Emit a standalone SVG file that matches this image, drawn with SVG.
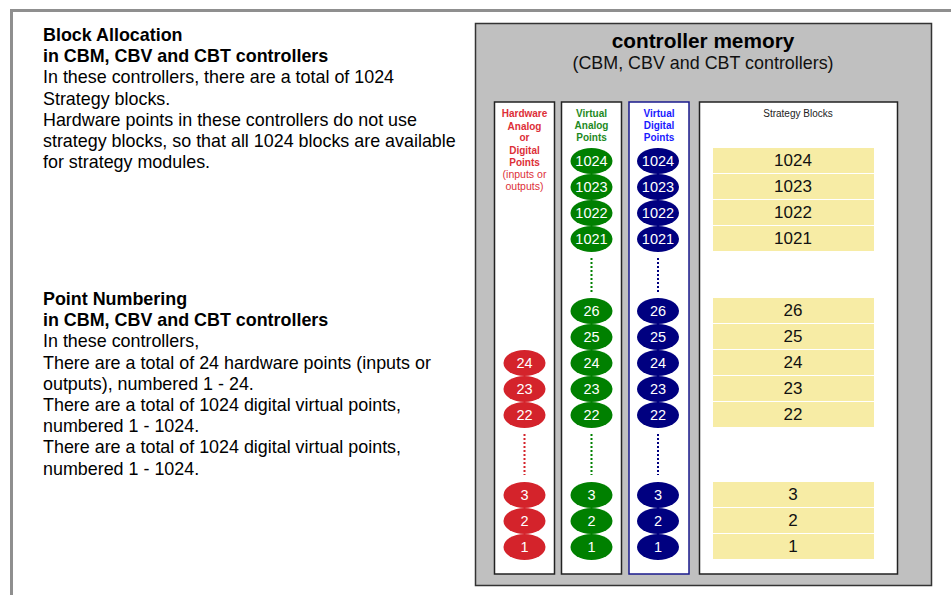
<svg xmlns="http://www.w3.org/2000/svg" width="951" height="595" viewBox="0 0 951 595">
<style>
text{font-family:"Liberation Sans",Arial,sans-serif}
.lt{font-size:17.9px;fill:#000}
.b{font-weight:bold}
.col{fill:#fff;stroke:#222;stroke-width:1.5}
.hd{font-size:10px;font-weight:bold;text-anchor:middle}
.hn{font-size:10.5px;font-weight:normal;text-anchor:middle}
.et{font-size:14.5px;fill:#fff;text-anchor:middle}
.yb{fill:#f7eca5}
.yt{font-size:17px;fill:#111;text-anchor:middle}
.red{fill:#d4232b}
.grn{fill:#008000}
.blu{fill:#000080}
.dot{stroke-width:2;stroke-dasharray:2 2;fill:none}
</style>
<rect width="951" height="595" fill="#fff"/>
<path d="M11.5 595 V10.5 H951" fill="none" stroke="#8f8f8f" stroke-width="3"/>
<g id="text-block-allocation">
<text class="lt b" x="43" y="41">Block Allocation</text>
<text class="lt b" x="43" y="62.2">in CBM, CBV and CBT controllers</text>
<text class="lt" x="43" y="83.4">In these controllers, there are a total of 1024</text>
<text class="lt" x="43" y="104.6">Strategy blocks.</text>
<text class="lt" x="43" y="125.8">Hardware points in these controllers do not use</text>
<text class="lt" x="43" y="147">strategy blocks, so that all 1024 blocks are available</text>
<text class="lt" x="43" y="168.2">for strategy modules.</text>
</g>
<g id="text-point-numbering">
<text class="lt b" x="43" y="305">Point Numbering</text>
<text class="lt b" x="43" y="326.2">in CBM, CBV and CBT controllers</text>
<text class="lt" x="43" y="347.4">In these controllers,</text>
<text class="lt" x="43" y="368.6">There are a total of 24 hardware points (inputs or</text>
<text class="lt" x="43" y="389.8">outputs), numbered 1 - 24.</text>
<text class="lt" x="43" y="411">There are a total of 1024 digital virtual points,</text>
<text class="lt" x="43" y="432.2">numbered 1 - 1024.</text>
<text class="lt" x="43" y="453.4">There are a total of 1024 digital virtual points,</text>
<text class="lt" x="43" y="474.6">numbered 1 - 1024.</text>
</g>
<g id="controller-memory">
<rect x="475.5" y="23.5" width="456" height="562" fill="#c0c0c0" stroke="#333" stroke-width="1.5"/>
<text x="703" y="48" font-size="20.8" font-weight="bold" text-anchor="middle" fill="#000">controller memory</text>
<text x="703" y="69" font-size="17.9" text-anchor="middle" fill="#111">(CBM, CBV and CBT controllers)</text>
</g>
<g id="hardware-points">
<rect class="col" x="494.5" y="102" width="60" height="472"/>
<g fill="#dd2f38">
<text class="hd" x="524.5" y="117">Hardware</text>
<text class="hd" x="524.5" y="129.5">Analog</text>
<text class="hd" x="524.5" y="141">or</text>
<text class="hd" x="524.5" y="153.5">Digital</text>
<text class="hd" x="524.5" y="166">Points</text>
<text class="hn" x="524.5" y="178">(inputs or</text>
<text class="hn" x="524.5" y="190">outputs)</text>
</g>
<g class="red">
<ellipse cx="524.5" cy="363" rx="21" ry="13"/><ellipse cx="524.5" cy="389" rx="21" ry="13"/><ellipse cx="524.5" cy="415" rx="21" ry="13"/>
<ellipse cx="524.5" cy="495" rx="21" ry="13"/><ellipse cx="524.5" cy="521" rx="21" ry="13"/><ellipse cx="524.5" cy="547" rx="21" ry="13"/>
</g>
<text class="et" x="524.5" y="368">24</text><text class="et" x="524.5" y="394">23</text><text class="et" x="524.5" y="420">22</text>
<text class="et" x="524.5" y="500">3</text><text class="et" x="524.5" y="526">2</text><text class="et" x="524.5" y="552">1</text>
<line class="dot" x1="524.5" y1="434" x2="524.5" y2="475" stroke="#d4232b"/>
</g>
<g id="virtual-analog-points">
<rect class="col" x="561.5" y="102" width="60" height="472"/>
<g fill="#1e8a1e">
<text class="hd" x="591.5" y="117">Virtual</text>
<text class="hd" x="591.5" y="129">Analog</text>
<text class="hd" x="591.5" y="141">Points</text>
</g>
<g class="grn">
<ellipse cx="591.5" cy="161" rx="21" ry="13"/><ellipse cx="591.5" cy="187" rx="21" ry="13"/><ellipse cx="591.5" cy="213" rx="21" ry="13"/><ellipse cx="591.5" cy="239" rx="21" ry="13"/>
<ellipse cx="591.5" cy="311" rx="21" ry="13"/><ellipse cx="591.5" cy="337" rx="21" ry="13"/><ellipse cx="591.5" cy="363" rx="21" ry="13"/><ellipse cx="591.5" cy="389" rx="21" ry="13"/><ellipse cx="591.5" cy="415" rx="21" ry="13"/>
<ellipse cx="591.5" cy="495" rx="21" ry="13"/><ellipse cx="591.5" cy="521" rx="21" ry="13"/><ellipse cx="591.5" cy="547" rx="21" ry="13"/>
</g>
<text class="et" x="591.5" y="166">1024</text><text class="et" x="591.5" y="192">1023</text><text class="et" x="591.5" y="218">1022</text><text class="et" x="591.5" y="244">1021</text>
<text class="et" x="591.5" y="316">26</text><text class="et" x="591.5" y="342">25</text><text class="et" x="591.5" y="368">24</text><text class="et" x="591.5" y="394">23</text><text class="et" x="591.5" y="420">22</text>
<text class="et" x="591.5" y="500">3</text><text class="et" x="591.5" y="526">2</text><text class="et" x="591.5" y="552">1</text>
<line class="dot" x1="591.5" y1="258" x2="591.5" y2="292" stroke="#008000"/>
<line class="dot" x1="591.5" y1="434" x2="591.5" y2="475" stroke="#008000"/>
</g>
<g id="virtual-digital-points">
<rect x="629" y="102" width="60" height="472" fill="#fff" stroke="#1a1a8c" stroke-width="1.5"/>
<g fill="#1a1aff">
<text class="hd" x="659" y="117">Virtual</text>
<text class="hd" x="659" y="129">Digital</text>
<text class="hd" x="659" y="141">Points</text>
</g>
<g class="blu">
<ellipse cx="658" cy="161" rx="21" ry="13"/><ellipse cx="658" cy="187" rx="21" ry="13"/><ellipse cx="658" cy="213" rx="21" ry="13"/><ellipse cx="658" cy="239" rx="21" ry="13"/>
<ellipse cx="658" cy="311" rx="21" ry="13"/><ellipse cx="658" cy="337" rx="21" ry="13"/><ellipse cx="658" cy="363" rx="21" ry="13"/><ellipse cx="658" cy="389" rx="21" ry="13"/><ellipse cx="658" cy="415" rx="21" ry="13"/>
<ellipse cx="658" cy="495" rx="21" ry="13"/><ellipse cx="658" cy="521" rx="21" ry="13"/><ellipse cx="658" cy="547" rx="21" ry="13"/>
</g>
<text class="et" x="658" y="166">1024</text><text class="et" x="658" y="192">1023</text><text class="et" x="658" y="218">1022</text><text class="et" x="658" y="244">1021</text>
<text class="et" x="658" y="316">26</text><text class="et" x="658" y="342">25</text><text class="et" x="658" y="368">24</text><text class="et" x="658" y="394">23</text><text class="et" x="658" y="420">22</text>
<text class="et" x="658" y="500">3</text><text class="et" x="658" y="526">2</text><text class="et" x="658" y="552">1</text>
<line class="dot" x1="658" y1="258" x2="658" y2="292" stroke="#000080"/>
<line class="dot" x1="658" y1="434" x2="658" y2="475" stroke="#000080"/>
</g>
<g id="strategy-blocks">
<rect class="col" x="699.5" y="102" width="198" height="472"/>
<text x="798" y="117" font-size="10" text-anchor="middle" fill="#222">Strategy Blocks</text>
<g class="yb">
<rect x="713" y="148" width="161" height="25"/><rect x="713" y="174" width="161" height="25"/><rect x="713" y="200" width="161" height="25"/><rect x="713" y="226" width="161" height="25"/>
<rect x="713" y="298" width="161" height="25"/><rect x="713" y="324" width="161" height="25"/><rect x="713" y="350" width="161" height="25"/><rect x="713" y="376" width="161" height="25"/><rect x="713" y="402" width="161" height="25"/>
<rect x="713" y="482" width="161" height="25"/><rect x="713" y="508" width="161" height="25"/><rect x="713" y="534" width="161" height="25"/>
</g>
<text class="yt" x="793" y="166">1024</text><text class="yt" x="793" y="192">1023</text><text class="yt" x="793" y="218">1022</text><text class="yt" x="793" y="244">1021</text>
<text class="yt" x="793" y="316">26</text><text class="yt" x="793" y="342">25</text><text class="yt" x="793" y="368">24</text><text class="yt" x="793" y="394">23</text><text class="yt" x="793" y="420">22</text>
<text class="yt" x="793" y="500">3</text><text class="yt" x="793" y="526">2</text><text class="yt" x="793" y="552">1</text>
</g>
</svg>
